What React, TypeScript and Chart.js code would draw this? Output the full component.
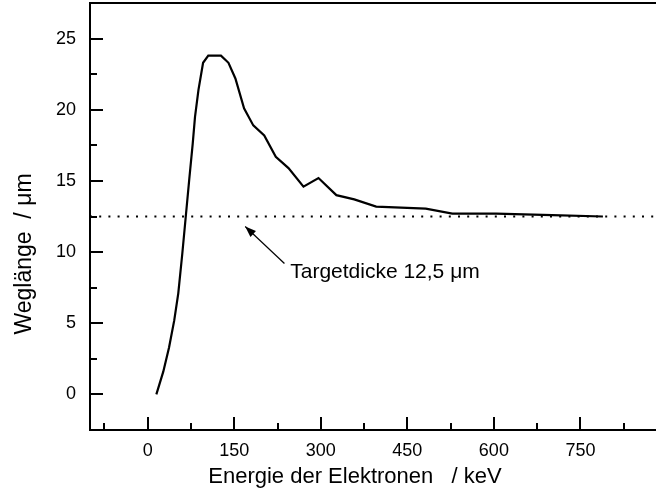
import React, { useEffect, useRef } from "react";
import { Chart, registerables } from "chart.js";

Chart.register(...registerables);

// Electron energy (keV) and path length (µm)
const energyKeV = [15, 27, 37, 46, 53, 60, 66, 72, 78, 82, 88, 96, 105, 127, 140, 152, 167, 183, 202, 222, 244, 270, 296, 327, 358, 396, 482, 528, 604, 701, 789];
const pathLength = [0, 1.6, 3.3, 5.2, 7.1, 9.9, 12.5, 15.1, 17.6, 19.5, 21.4, 23.3, 23.8, 23.8, 23.3, 22.2, 20.1, 18.9, 18.2, 16.7, 15.9, 14.6, 15.2, 14.0, 13.7, 13.2, 13.05, 12.7, 12.7, 12.6, 12.5];

const targetThickness = 12.5;
const xRange = [-100, 881];
const yRange = [-2.5, 27.5];
const xTickLabels = [0, 150, 300, 450, 600, 750];
const yTickLabels = [0, 5, 10, 15, 20, 25];
const xTitle = "Energie der Elektronen   / keV";
const yTitle = "Weglänge  / \u03bcm";
const noteText = "Targetdicke 12,5 \u03bcm";
const noteArrowTip = [169, 11.8];
const noteArrowTail = [237, 9.2];
const noteTextPos = [247, 8.6];

const FONT = "'Liberation Sans', Arial, sans-serif";

const framePlugin = {
  id: "frame",
  afterDraw(chart: any) {
    const { ctx, chartArea: ca, scales } = chart;
    const x = scales.x;
    const y = scales.y;
    ctx.save();
    ctx.strokeStyle = "#000";
    ctx.lineWidth = 2;
    // top frame line
    ctx.beginPath();
    ctx.moveTo(ca.left - 1, ca.top);
    ctx.lineTo(ca.right + 2, ca.top);
    ctx.stroke();
    // inward ticks on x
    x.ticks.forEach((t: any) => {
      const v = t.value;
      if (v <= x.min || v >= x.max) return;
      const px = Math.round(x.getPixelForValue(v));
      const len = xTickLabels.includes(v) ? 13 : 7;
      ctx.beginPath();
      ctx.moveTo(px, ca.bottom);
      ctx.lineTo(px, ca.bottom - len);
      ctx.stroke();
    });
    y.ticks.forEach((t: any) => {
      const v = t.value;
      if (v <= y.min || v >= y.max) return;
      const py = Math.round(y.getPixelForValue(v));
      const len = yTickLabels.includes(v) ? 13 : 7;
      ctx.beginPath();
      ctx.moveTo(ca.left, py);
      ctx.lineTo(ca.left + len, py);
      ctx.stroke();
    });
    // axis titles
    ctx.fillStyle = "#000";
    ctx.font = `22px ${FONT}`;
    ctx.textAlign = "center";
    ctx.textBaseline = "middle";
    ctx.fillText(xTitle, 355, 477);
    ctx.save();
    ctx.translate(25, 254);
    ctx.rotate(-Math.PI / 2);
    ctx.font = `23px ${FONT}`;
    ctx.fillText(yTitle, 0, 0);
    ctx.restore();
    // annotation
    const tipX = x.getPixelForValue(noteArrowTip[0]);
    const tipY = y.getPixelForValue(noteArrowTip[1]);
    const tailX = x.getPixelForValue(noteArrowTail[0]);
    const tailY = y.getPixelForValue(noteArrowTail[1]);
    ctx.lineWidth = 1.2;
    ctx.beginPath();
    ctx.moveTo(tailX, tailY);
    ctx.lineTo(tipX, tipY);
    ctx.stroke();
    const ang = Math.atan2(tipY - tailY, tipX - tailX);
    const hl = 11, hw = 4;
    ctx.beginPath();
    ctx.moveTo(tipX, tipY);
    ctx.lineTo(tipX - hl * Math.cos(ang) + hw * Math.sin(ang), tipY - hl * Math.sin(ang) - hw * Math.cos(ang));
    ctx.lineTo(tipX - hl * Math.cos(ang) - hw * Math.sin(ang), tipY - hl * Math.sin(ang) + hw * Math.cos(ang));
    ctx.closePath();
    ctx.fill();
    ctx.font = `21px ${FONT}`;
    ctx.textAlign = "left";
    ctx.fillText(noteText, x.getPixelForValue(noteTextPos[0]), y.getPixelForValue(noteTextPos[1]));
    ctx.restore();
  },
};

export default function App() {
  const ref = useRef<HTMLCanvasElement | null>(null);
  useEffect(() => {
    if (!ref.current) return;
    const chart = new Chart(ref.current, {
      type: "line",
      data: {
        datasets: [
          {
            data: energyKeV.map((e, i) => ({ x: e, y: pathLength[i] })),
            borderColor: "#000",
            borderWidth: 2.2,
            pointRadius: 0,
            tension: 0,
            fill: false,
          },
          {
            data: [
              { x: xRange[0], y: targetThickness },
              { x: xRange[1], y: targetThickness },
            ],
            borderColor: "#000",
            borderWidth: 2,
            borderDash: [2, 7.2],
            borderCapStyle: "butt",
            pointRadius: 0,
            fill: false,
          },
        ],
      },
      options: {
        animation: false,
        responsive: false,
        events: [],
        layout: { padding: { top: 3, right: 0, left: 0, bottom: 0 } },
        plugins: { legend: { display: false }, tooltip: { enabled: false } },
        scales: {
          x: {
            type: "linear",
            min: xRange[0],
            max: xRange[1],
            grid: { display: false, drawTicks: false },
            border: { display: true, color: "#000", width: 2 },
            afterFit: (s: any) => {
              s.height = 66;
              s.paddingLeft = 0;
              s.paddingRight = 0;
            },
            ticks: {
              stepSize: 75,
              includeBounds: false,
              autoSkip: false,
              maxRotation: 0,
              padding: 10,
              color: "#000",
              font: { family: FONT, size: 18 },
              callback: (v: any) => (xTickLabels.includes(Number(v)) ? String(v) : ""),
            },
          },
          y: {
            type: "linear",
            min: yRange[0],
            max: yRange[1],
            grid: { display: false, drawTicks: false },
            border: { display: true, color: "#000", width: 2 },
            afterFit: (s: any) => {
              s.width = 90;
              s.paddingTop = 0;
              s.paddingBottom = 0;
            },
            ticks: {
              stepSize: 2.5,
              includeBounds: false,
              autoSkip: false,
              padding: 14,
              color: "#000",
              font: { family: FONT, size: 18 },
              callback: (v: any) => (yTickLabels.includes(Number(v)) ? String(v) : ""),
            },
          },
        },
      },
      plugins: [framePlugin],
    });
    return () => chart.destroy();
  }, []);
  return (
    <div style={{ position: "fixed", left: 0, top: 0, width: 656, height: 496, background: "#fff" }}>
      <canvas ref={ref} width={656} height={496} style={{ display: "block" }} />
    </div>
  );
}
